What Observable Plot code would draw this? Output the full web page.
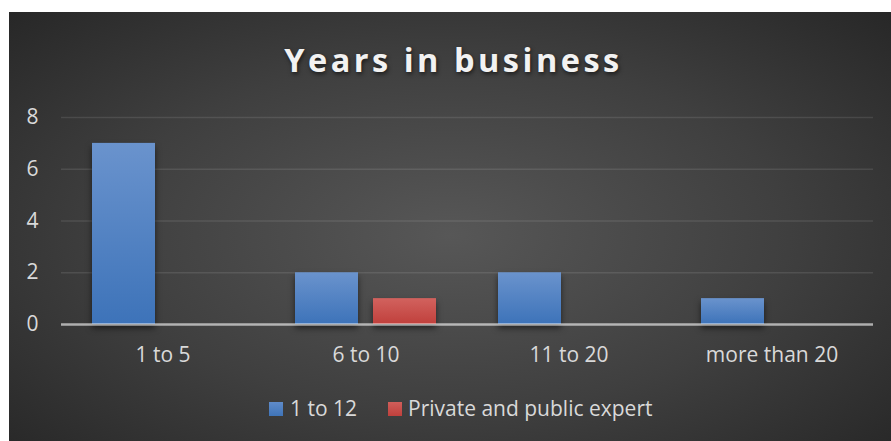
<!DOCTYPE html>
<html>
<head>
<meta charset="utf-8">
<script src="https://cdn.jsdelivr.net/npm/d3@7"></script>
<script src="https://cdn.jsdelivr.net/npm/@observablehq/plot@0.6"></script>
<style>
  html, body { margin: 0; padding: 0; background: #ffffff; width: 891px; height: 441px; overflow: hidden; }
  #bg { position: absolute; left: 9px; top: 12px; width: 882px; height: 429px;
        background: radial-gradient(ellipse 70% 75% at 50% 52%, #575757 0%, #3f3f3f 55%, #272727 100%); }
  #chart { position: absolute; left: 0; top: 0; }
  #title { position: absolute; left: 0; width: 907px; top: 38px; text-align: center;
           font-family: "Open Sans", sans-serif; font-weight: 700; font-size: 32.5px; letter-spacing: 3.5px;
           color: #f2f2f2; text-shadow: 1px 2px 4px rgba(0,0,0,0.6); line-height: 44px; }
  .leg { position: absolute; font-family: "Open Sans", sans-serif; font-size: 21px; color: #d9d9d9; line-height: 24px; top: 396px; }
  .sw { position: absolute; width: 14px; height: 14px; top: 402px; }
  g[aria-label="bar"] rect { filter: drop-shadow(0px 4px 3px rgba(0,0,0,0.55)); }
</style>
</head>
<body>
<svg width="0" height="0" style="position:absolute">
  <defs>
    <linearGradient id="gb" x1="0" y1="0" x2="0" y2="1">
      <stop offset="0" stop-color="#6a93cd"/>
      <stop offset="1" stop-color="#3d73b9"/>
    </linearGradient>
    <linearGradient id="gr" x1="0" y1="0" x2="0" y2="1">
      <stop offset="0" stop-color="#d2625e"/>
      <stop offset="1" stop-color="#c0403c"/>
    </linearGradient>
  </defs>
</svg>
<div id="bg"></div>
<div id="chart"></div>
<div id="title">Years in business</div>
<div class="sw" style="left:269px;background:linear-gradient(#5f8bc9,#3f74b8)"></div>
<div class="leg" style="left:290px">1 to 12</div>
<div class="sw" style="left:388px;background:linear-gradient(#d05e5a,#bf403c)"></div>
<div class="leg" style="left:408px">Private and public expert</div>
<script>
const categories = ["1 to 5", "6 to 10", "11 to 20", "more than 20"];
const seriesNames = ["1 to 12", "Private and public expert"];
const values1 = [7, 2, 2, 1];
const values2 = [0, 1, 0, 0];
const yTicks = [0, 2, 4, 6, 8];

const rows = [];
categories.forEach((c, i) => {
  rows.push({category: c, series: seriesNames[0], value: values1[i]});
  rows.push({category: c, series: seriesNames[1], value: values2[i]});
});

const plot = Plot.plot({
  width: 891,
  height: 441,
  marginLeft: 61,
  marginRight: 18,
  marginTop: 117,
  marginBottom: 117,
  style: {background: "transparent", fontFamily: "'Open Sans', sans-serif", fontSize: "21px", color: "#d9d9d9"},
  fx: {domain: categories, padding: 0, axis: "bottom", tickSize: 0, tickPadding: 23, label: null},
  x: {domain: seriesNames, paddingInner: 0.1923, paddingOuter: 0.397, axis: null},
  y: {domain: [0, 8], ticks: yTicks, tickSize: 0, tickPadding: 23, label: null, tickFormat: d => String(d)},
  color: {domain: seriesNames, range: ["url(#gb)", "url(#gr)"]},
  marks: [
    Plot.ruleY(yTicks.filter(t => t > 0), {stroke: "#ffffff", strokeOpacity: 0.1, strokeWidth: 1.5}),
    Plot.barY(rows, {fx: "category", x: "series", y: "value", fill: "series"}),
    Plot.ruleY([0], {stroke: "#ffffff", strokeOpacity: 0.6, strokeWidth: 2.5})
  ]
});
document.getElementById("chart").appendChild(plot);
</script>
</body>
</html>
